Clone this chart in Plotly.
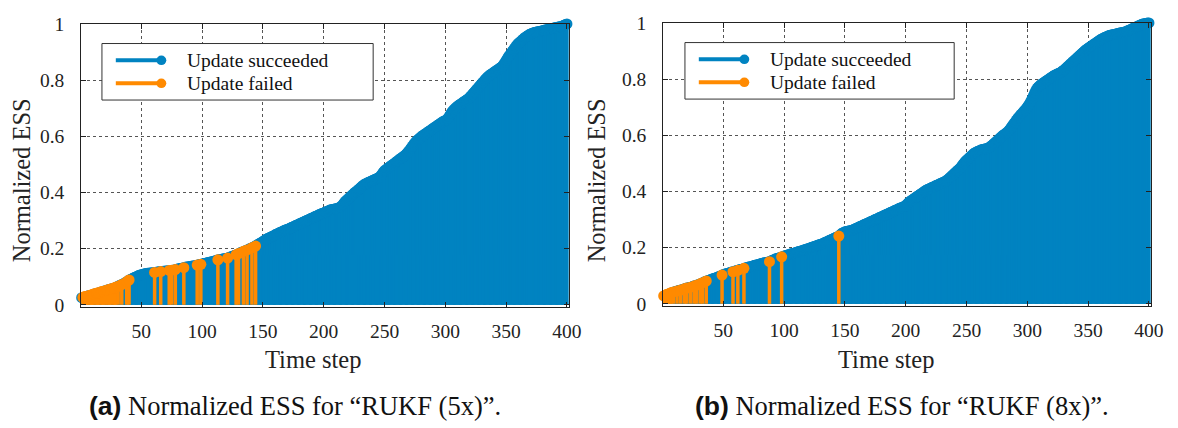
import plotly.graph_objects as go

# ---------------- data ----------------
steps = list(range(1, 401))

ess_5x = [
    0.025, 0.026, 0.028, 0.029, 0.030, 0.031, 0.033, 0.034, 0.035, 0.037, 0.038, 0.039, 0.041, 0.042, 0.043, 0.044, 0.046, 0.047, 0.048, 0.050,
    0.051, 0.052, 0.054, 0.055, 0.056, 0.058, 0.059, 0.060, 0.062, 0.064, 0.066, 0.068, 0.070, 0.072, 0.074, 0.076, 0.079, 0.082, 0.085, 0.088,
    0.090, 0.092, 0.094, 0.096, 0.098, 0.100, 0.102, 0.104, 0.106, 0.107, 0.108, 0.109, 0.110, 0.111, 0.112, 0.112, 0.113, 0.113, 0.114, 0.114,
    0.115, 0.116, 0.116, 0.117, 0.117, 0.118, 0.118, 0.119, 0.119, 0.120, 0.120, 0.121, 0.122, 0.122, 0.123, 0.123, 0.124, 0.125, 0.126, 0.127,
    0.128, 0.129, 0.130, 0.131, 0.132, 0.133, 0.134, 0.134, 0.135, 0.136, 0.137, 0.138, 0.138, 0.139, 0.140, 0.141, 0.142, 0.143, 0.144, 0.145,
    0.146, 0.147, 0.148, 0.149, 0.150, 0.151, 0.152, 0.153, 0.154, 0.156, 0.157, 0.158, 0.160, 0.161, 0.161, 0.162, 0.163, 0.164, 0.165, 0.165,
    0.166, 0.168, 0.170, 0.171, 0.173, 0.174, 0.176, 0.178, 0.180, 0.182, 0.184, 0.186, 0.188, 0.190, 0.191, 0.193, 0.195, 0.197, 0.199, 0.201,
    0.203, 0.205, 0.207, 0.209, 0.212, 0.215, 0.217, 0.220, 0.222, 0.225, 0.228, 0.231, 0.234, 0.236, 0.238, 0.240, 0.242, 0.244, 0.246, 0.249,
    0.251, 0.253, 0.255, 0.257, 0.259, 0.261, 0.263, 0.265, 0.267, 0.268, 0.270, 0.272, 0.274, 0.276, 0.278, 0.280, 0.282, 0.284, 0.286, 0.288,
    0.290, 0.292, 0.294, 0.296, 0.298, 0.300, 0.302, 0.304, 0.306, 0.308, 0.310, 0.312, 0.314, 0.316, 0.318, 0.320, 0.322, 0.324, 0.326, 0.327,
    0.329, 0.331, 0.333, 0.335, 0.337, 0.338, 0.339, 0.340, 0.341, 0.342, 0.343, 0.344, 0.346, 0.349, 0.353, 0.358, 0.364, 0.369, 0.373, 0.377,
    0.381, 0.385, 0.389, 0.393, 0.397, 0.401, 0.404, 0.408, 0.412, 0.416, 0.420, 0.424, 0.427, 0.430, 0.432, 0.434, 0.436, 0.438, 0.440, 0.442,
    0.444, 0.446, 0.448, 0.450, 0.452, 0.455, 0.460, 0.466, 0.472, 0.477, 0.481, 0.484, 0.487, 0.490, 0.494, 0.497, 0.500, 0.503, 0.506, 0.510,
    0.513, 0.517, 0.520, 0.523, 0.526, 0.529, 0.533, 0.537, 0.542, 0.547, 0.553, 0.559, 0.565, 0.571, 0.577, 0.582, 0.586, 0.590, 0.594, 0.598,
    0.601, 0.604, 0.607, 0.610, 0.613, 0.616, 0.619, 0.622, 0.625, 0.628, 0.631, 0.634, 0.637, 0.640, 0.643, 0.646, 0.649, 0.652, 0.654, 0.656,
    0.658, 0.663, 0.670, 0.677, 0.684, 0.690, 0.695, 0.699, 0.703, 0.707, 0.710, 0.713, 0.716, 0.719, 0.722, 0.725, 0.728, 0.731, 0.734, 0.738,
    0.743, 0.748, 0.753, 0.758, 0.763, 0.768, 0.773, 0.778, 0.783, 0.788, 0.793, 0.798, 0.803, 0.808, 0.812, 0.816, 0.819, 0.822, 0.825, 0.828,
    0.831, 0.834, 0.837, 0.840, 0.843, 0.846, 0.850, 0.856, 0.863, 0.870, 0.877, 0.884, 0.890, 0.896, 0.902, 0.908, 0.914, 0.920, 0.926, 0.931,
    0.934, 0.938, 0.942, 0.946, 0.950, 0.953, 0.956, 0.959, 0.962, 0.964, 0.966, 0.968, 0.969, 0.970, 0.971, 0.972, 0.973, 0.974, 0.975, 0.976,
    0.977, 0.978, 0.979, 0.980, 0.981, 0.982, 0.983, 0.984, 0.985, 0.986, 0.987, 0.988, 0.989, 0.990, 0.991, 0.992, 0.994, 0.996, 0.998, 1.000,
]

ess_8x = [
    0.028, 0.030, 0.032, 0.034, 0.035, 0.037, 0.039, 0.040, 0.042, 0.043, 0.044, 0.045, 0.047, 0.048, 0.049, 0.050, 0.052, 0.053, 0.055, 0.056,
    0.057, 0.058, 0.059, 0.060, 0.062, 0.063, 0.065, 0.066, 0.068, 0.069, 0.071, 0.073, 0.075, 0.077, 0.079, 0.081, 0.082, 0.084, 0.085, 0.087,
    0.088, 0.090, 0.091, 0.093, 0.094, 0.096, 0.098, 0.100, 0.102, 0.104, 0.105, 0.107, 0.108, 0.109, 0.110, 0.112, 0.113, 0.114, 0.116, 0.117,
    0.118, 0.119, 0.121, 0.122, 0.123, 0.124, 0.126, 0.127, 0.128, 0.130, 0.131, 0.132, 0.133, 0.134, 0.136, 0.137, 0.138, 0.139, 0.140, 0.142,
    0.143, 0.144, 0.145, 0.146, 0.147, 0.148, 0.149, 0.150, 0.152, 0.154, 0.156, 0.158, 0.160, 0.161, 0.162, 0.164, 0.165, 0.167, 0.168, 0.170,
    0.171, 0.173, 0.174, 0.175, 0.177, 0.178, 0.179, 0.180, 0.182, 0.183, 0.184, 0.186, 0.187, 0.188, 0.190, 0.191, 0.192, 0.194, 0.195, 0.197,
    0.198, 0.200, 0.201, 0.203, 0.204, 0.206, 0.207, 0.209, 0.210, 0.212, 0.213, 0.215, 0.217, 0.219, 0.221, 0.223, 0.225, 0.227, 0.229, 0.231,
    0.233, 0.235, 0.237, 0.239, 0.241, 0.245, 0.249, 0.252, 0.254, 0.256, 0.257, 0.258, 0.259, 0.260, 0.261, 0.262, 0.264, 0.266, 0.268, 0.270,
    0.272, 0.274, 0.276, 0.278, 0.280, 0.282, 0.284, 0.286, 0.288, 0.290, 0.292, 0.294, 0.296, 0.298, 0.300, 0.302, 0.304, 0.306, 0.308, 0.310,
    0.312, 0.314, 0.316, 0.318, 0.320, 0.322, 0.324, 0.326, 0.328, 0.330, 0.332, 0.334, 0.336, 0.338, 0.340, 0.342, 0.343, 0.345, 0.347, 0.349,
    0.354, 0.359, 0.363, 0.366, 0.369, 0.372, 0.375, 0.378, 0.381, 0.384, 0.387, 0.390, 0.393, 0.396, 0.399, 0.402, 0.405, 0.407, 0.409, 0.411,
    0.413, 0.415, 0.417, 0.419, 0.421, 0.423, 0.425, 0.427, 0.429, 0.431, 0.433, 0.435, 0.437, 0.440, 0.444, 0.448, 0.452, 0.456, 0.460, 0.464,
    0.468, 0.472, 0.476, 0.480, 0.484, 0.490, 0.496, 0.502, 0.507, 0.511, 0.515, 0.519, 0.523, 0.527, 0.531, 0.535, 0.538, 0.540, 0.542, 0.544,
    0.546, 0.548, 0.549, 0.550, 0.551, 0.552, 0.553, 0.555, 0.558, 0.561, 0.564, 0.568, 0.572, 0.576, 0.580, 0.584, 0.588, 0.592, 0.596, 0.600,
    0.603, 0.606, 0.609, 0.613, 0.618, 0.624, 0.630, 0.636, 0.642, 0.648, 0.654, 0.660, 0.665, 0.670, 0.675, 0.680, 0.685, 0.690, 0.695, 0.701,
    0.707, 0.714, 0.722, 0.731, 0.741, 0.751, 0.760, 0.767, 0.772, 0.776, 0.780, 0.783, 0.786, 0.789, 0.792, 0.795, 0.798, 0.801, 0.804, 0.807,
    0.810, 0.813, 0.815, 0.817, 0.819, 0.821, 0.823, 0.826, 0.829, 0.832, 0.836, 0.840, 0.844, 0.848, 0.852, 0.856, 0.860, 0.864, 0.868, 0.872,
    0.876, 0.880, 0.884, 0.888, 0.892, 0.896, 0.900, 0.904, 0.907, 0.910, 0.913, 0.916, 0.919, 0.922, 0.925, 0.928, 0.931, 0.934, 0.937, 0.940,
    0.943, 0.945, 0.947, 0.949, 0.951, 0.953, 0.955, 0.956, 0.957, 0.958, 0.959, 0.960, 0.961, 0.962, 0.963, 0.964, 0.965, 0.966, 0.967, 0.968,
    0.969, 0.971, 0.973, 0.975, 0.977, 0.979, 0.981, 0.983, 0.985, 0.987, 0.989, 0.991, 0.993, 0.995, 0.996, 0.997, 0.998, 0.999, 1.000, 1.000,
]

failed_5x = [2, 3, 4, 5, 6, 8, 9, 10, 11, 13, 14, 15, 17, 18, 19, 21, 22, 24, 25, 27, 28, 29,
             31, 34, 38, 40, 61, 66, 73, 75, 78, 85, 96, 99, 113, 121, 128, 130, 134, 137, 141, 144]
failed_8x = [1, 2, 3, 4, 6, 7, 9, 12, 15, 18, 20, 23, 26, 28, 31, 33, 36,
             49, 58, 62, 67, 88, 98, 145]

x_ticks = [50, 100, 150, 200, 250, 300, 350, 400]
y_ticks = [0, 0.2, 0.4, 0.6, 0.8, 1]
y_ticktext = ["0", "0.2", "0.4", "0.6", "0.8", "1"]
legend_labels = ["Update succeeded", "Update failed"]
captions = ["Normalized ESS for “RUKF (5x)”.", "Normalized ESS for “RUKF (8x)”."]
caption_tags = ["(a)", "(b)"]

# ---------------- styling ----------------
W, H = 1178, 428
BLUE = "#0083C1"
ORANGE = "#FF8A00"
SERIF = "Liberation Serif"
SANS = "Liberation Sans"


def px(p):
    return p / W


def py(p):
    return 1 - p / H


fig = go.Figure()


def stem_xy(xs, ys):
    X, Y = [], []
    for a, b in zip(xs, ys):
        X += [a, a, None]
        Y += [0, b, None]
    return X, Y


panels = [
    dict(ess=ess_5x, failed=failed_5x, xa="x", ya="y", plot=(82, 575, 14.5, 310), legend=(103, 377, 35, 94),
         ytitle=(22, 178), xtitle=(316, 365), caption=(298, 413)),
    dict(ess=ess_8x, failed=failed_8x, xa="x2", ya="y2", plot=(670, 1163, 13.5, 309), legend=(692, 964, 34, 93),
         ytitle=(603, 178), xtitle=(895, 365), caption=(911, 413)),
]

shapes, annotations = [], []

for i, p in enumerate(panels):
    fset = set(p["failed"])
    ok_x = [s for s in steps if s not in fset]
    ok_y = [p["ess"][s - 1] for s in ok_x]
    bad_x = [s for s in steps if s in fset]
    bad_y = [p["ess"][s - 1] for s in bad_x]
    for xs, ys, col, name in [(ok_x, ok_y, BLUE, legend_labels[0]), (bad_x, bad_y, ORANGE, legend_labels[1])]:
        X, Y = stem_xy(xs, ys)
        fig.add_trace(go.Scatter(x=X, y=Y, mode="lines", line=dict(color=col, width=3.5),
                                 xaxis=p["xa"], yaxis=p["ya"], showlegend=False, hoverinfo="skip",
                                 cliponaxis=False, name=name))
        fig.add_trace(go.Scatter(x=xs, y=ys, mode="markers", marker=dict(color=col, size=11, line=dict(width=0)),
                                 xaxis=p["xa"], yaxis=p["ya"], showlegend=False, cliponaxis=False, name=name))

    # manual legend box (stem-style symbols)
    lx0, lx1, ly0, ly1 = p["legend"]
    shapes.append(dict(type="rect", xref="paper", yref="paper", x0=px(lx0), x1=px(lx1), y0=py(ly1), y1=py(ly0),
                       line=dict(color="#333", width=1), fillcolor="white", layer="above"))
    for k, (lab, col) in enumerate(zip(legend_labels, [BLUE, ORANGE])):
        ry = ly0 + 17.5 + 24 * k
        shapes.append(dict(type="line", xref="paper", yref="paper", x0=px(lx0 + 14), x1=px(lx0 + 60),
                           y0=py(ry), y1=py(ry), line=dict(color=col, width=4), layer="above"))
        shapes.append(dict(type="circle", xref="paper", yref="paper", x0=px(lx0 + 55), x1=px(lx0 + 65),
                           y0=py(ry + 5), y1=py(ry - 5), line=dict(width=0), fillcolor=col, layer="above"))
        annotations.append(dict(xref="paper", yref="paper", x=px(lx0 + 84), y=py(ry), xanchor="left", yanchor="middle",
                                text=lab, showarrow=False, font=dict(family=SERIF, size=19.5, color="#111")))

    # axis titles
    annotations.append(dict(xref="paper", yref="paper", x=px(p["ytitle"][0]), y=py(p["ytitle"][1]),
                            xanchor="center", yanchor="middle", textangle=-90, text="Normalized ESS",
                            showarrow=False, font=dict(family=SERIF, size=24.5, color="#222")))
    annotations.append(dict(xref="paper", yref="paper", x=px(p["xtitle"][0]), y=py(p["xtitle"][1]),
                            xanchor="center", yanchor="middle", text="Time step",
                            showarrow=False, font=dict(family=SERIF, size=24.5, color="#222")))
    # caption
    annotations.append(dict(xref="paper", yref="paper", x=px(p["caption"][0]), y=py(p["caption"][1]),
                            xanchor="center", yanchor="middle",
                            text=f'<b><span style="font-family:{SANS}">{caption_tags[i]}</span></b> {captions[i]}',
                            showarrow=False, font=dict(family=SERIF, size=26.5, color="#111")))

axis_common = dict(showline=True, linecolor="#222", linewidth=1, mirror="ticks", ticks="inside", ticklen=5,
                   tickcolor="#222", showgrid=True, gridcolor="#555", griddash="dot", gridwidth=1,
                   zeroline=False, tickfont=dict(family=SERIF, size=19.5, color="#222"))

layout_axes = {}
for i, p in enumerate(panels):
    x0, x1, y0, y1 = p["plot"]
    sx = "" if i == 0 else "2"
    layout_axes["xaxis" + sx] = dict(axis_common, domain=[px(x0), px(x1)], range=[0.6, 401.8],
                                     tickvals=x_ticks, ticklabelstandoff=7,
                                     anchor="y" + sx)
    layout_axes["yaxis" + sx] = dict(axis_common, domain=[py(y1), py(y0)], range=[-0.008, 1],
                                     tickvals=y_ticks, ticktext=y_ticktext, ticklabelstandoff=12,
                                     anchor="x" + sx)

fig.update_layout(width=W, height=H, margin=dict(l=0, r=0, t=0, b=0), paper_bgcolor="white",
                  plot_bgcolor="white", showlegend=False, shapes=shapes, annotations=annotations,
                  font=dict(family=SERIF), **layout_axes)

fig.write_html("out.html")
